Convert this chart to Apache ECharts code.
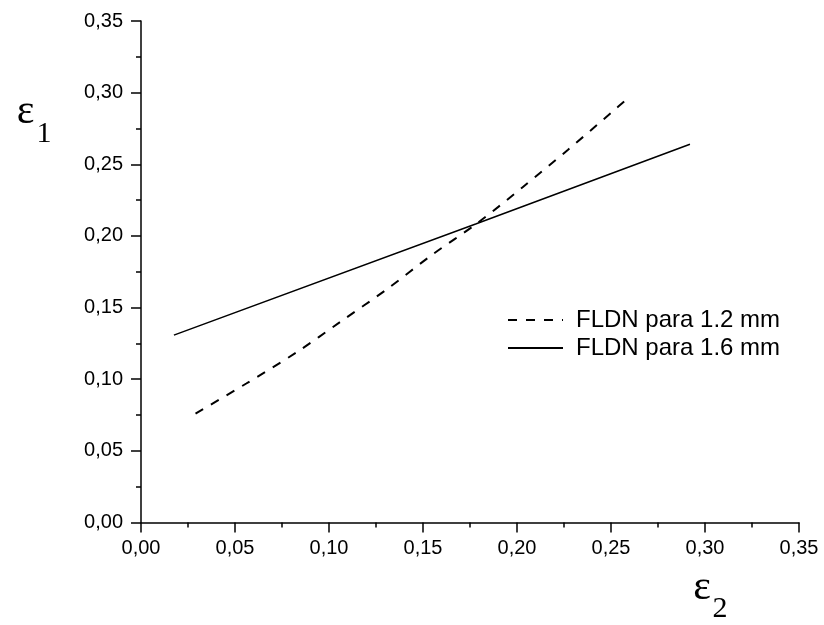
<!DOCTYPE html>
<html>
<head>
<meta charset="utf-8">
<script src="https://cdn.jsdelivr.net/npm/echarts@6/dist/echarts.min.js"></script>
<style>html,body{margin:0;padding:0;background:#fff}#c{width:824px;height:625px}</style>
</head>
<body>
<div id="c"></div>
<script>
// Data
const seriesNames = ['FLDN para 1.2 mm', 'FLDN para 1.6 mm'];
const fldn12_x = [0.029, 0.056, 0.083, 0.106, 0.131, 0.155, 0.179, 0.203, 0.227, 0.251, 0.258];
const fldn12_y = [0.076, 0.097, 0.119, 0.140, 0.163, 0.187, 0.209, 0.234, 0.260, 0.287, 0.295];
const fldn16_x = [0.0175, 0.178, 0.292];
const fldn16_y = [0.1308, 0.2083, 0.264];
const axisMin = 0, axisMax = 0.35, axisStep = 0.05;

const pairs = (xs, ys) => xs.map((x, i) => [x, ys[i]]);
const fmt = v => v.toFixed(2).replace('.', ',');
const font = '"Liberation Sans", Arial, sans-serif';
const serif = '"Liberation Serif", "Times New Roman", serif';

const axisCommon = {
  type: 'value', min: axisMin, max: axisMax, interval: axisStep,
  axisLine: { show: true, lineStyle: { color: '#000', width: 1.5 } },
  axisTick: { show: true, inside: false, length: 10, lineStyle: { color: '#000', width: 1.5 } },
  minorTick: { show: true, splitNumber: 2, length: 5, lineStyle: { color: '#000', width: 1.5 } },
  splitLine: { show: false },
  axisLabel: { formatter: fmt, color: '#000', fontSize: 20, fontFamily: font }
};

const chart = echarts.init(document.getElementById('c'), null, { renderer: 'canvas' });
chart.setOption({
  animation: false,
  backgroundColor: '#fff',
  grid: { left: 141, right: 25, top: 21, bottom: 102.5, containLabel: false },
  xAxis: Object.assign({}, axisCommon, { axisLabel: Object.assign({}, axisCommon.axisLabel, { margin: 16 }) }),
  yAxis: Object.assign({}, axisCommon, { axisLabel: Object.assign({}, axisCommon.axisLabel, { margin: 18 }) }),
  legend: {
    orient: 'vertical', left: 502, top: 303, itemWidth: 55, itemHeight: 14, itemGap: 4,
    itemStyle: { opacity: 0 },
    textStyle: { color: '#000', fontSize: 24, fontFamily: font, padding: [0, 0, 0, 8] },
    data: seriesNames
  },
  series: [
    { name: seriesNames[0], type: 'line', data: pairs(fldn12_x, fldn12_y), symbol: 'none', smooth: 0.3,
      lineStyle: { color: '#000', width: 2, type: [9, 9] }, itemStyle: { color: '#000' } },
    { name: seriesNames[1], type: 'line', data: pairs(fldn16_x, fldn16_y), symbol: 'none',
      lineStyle: { color: '#000', width: 1.5, type: 'solid' }, itemStyle: { color: '#000' } }
  ],
  graphic: [
    { type: 'text', x: 25.5, y: 112, style: { text: 'ε', fontFamily: serif, fontSize: 42, fill: '#000', align: 'center', verticalAlign: 'middle' } },
    { type: 'text', x: 44, y: 134, style: { text: '1', fontFamily: serif, fontSize: 30, fill: '#000', align: 'center', verticalAlign: 'middle' } },
    { type: 'text', x: 702, y: 588, style: { text: 'ε', fontFamily: serif, fontSize: 42, fill: '#000', align: 'center', verticalAlign: 'middle' } },
    { type: 'text', x: 720, y: 609, style: { text: '2', fontFamily: serif, fontSize: 30, fill: '#000', align: 'center', verticalAlign: 'middle' } }
  ]
});
</script>
</body>
</html>
